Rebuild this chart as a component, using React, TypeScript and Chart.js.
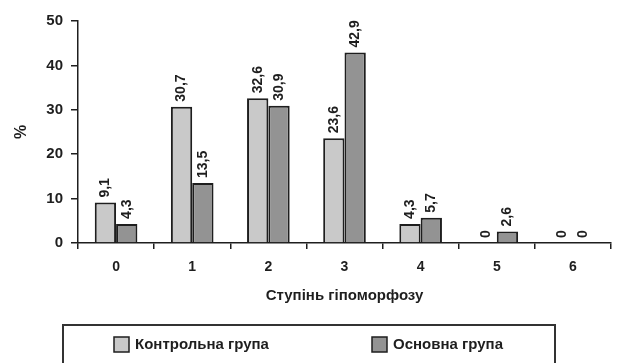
import React, { useEffect, useRef } from "react";
import { Chart, registerables } from "chart.js";

Chart.register(...registerables);

// Degree categories on the x axis
const degrees = ["0", "1", "2", "3", "4", "5", "6"];
// Share of patients, %
const controlGroup = [9.1, 30.7, 32.6, 23.6, 4.3, 0, 0];
const mainGroup = [4.3, 13.5, 30.9, 42.9, 5.7, 2.6, 0];
const seriesNames = ["Контрольна група", "Основна група"];
const seriesFills = ["#c9c9c9", "#939393"];
const xTitle = "Ступінь гіпоморфозу";
const yTitle = "%";
const yMax = 50;
const yStep = 10;

const FONT = "'Liberation Sans', Arial, sans-serif";
const INK = "#1e1e1e";

// Vertical value labels above every bar
const valueLabels = {
  id: "valueLabels",
  afterDatasetsDraw(chart: any) {
    const ctx = chart.ctx;
    ctx.save();
    ctx.font = `bold 14px ${FONT}`;
    ctx.fillStyle = INK;
    ctx.textAlign = "left";
    ctx.textBaseline = "middle";
    chart.data.datasets.forEach((ds: any, di: number) => {
      const meta = chart.getDatasetMeta(di);
      meta.data.forEach((bar: any, i: number) => {
        const v = ds.data[i] as number;
        const text = String(v).replace(".", ",");
        ctx.save();
        ctx.translate(bar.x, bar.y - 5);
        ctx.rotate(-Math.PI / 2);
        ctx.fillText(text, 0, 0);
        ctx.restore();
      });
    });
    ctx.restore();
  },
};

// Framed legend under the axis title
const framedLegend = {
  id: "framedLegend",
  afterDraw(chart: any) {
    const ctx = chart.ctx;
    const top = 325;
    ctx.save();
    ctx.strokeStyle = "#333";
    ctx.lineWidth = 2;
    ctx.strokeRect(63, top, 492, 60);
    ctx.font = `bold 15px ${FONT}`;
    ctx.textBaseline = "middle";
    ctx.textAlign = "left";
    const starts = [114, 372];
    chart.data.datasets.forEach((ds: any, i: number) => {
      const x = starts[i];
      ctx.fillStyle = ds.backgroundColor;
      ctx.fillRect(x, 337, 15, 15);
      ctx.strokeStyle = INK;
      ctx.lineWidth = 1.5;
      ctx.strokeRect(x, 337, 15, 15);
      ctx.fillStyle = INK;
      ctx.fillText(ds.label, x + 21, 345);
    });
    ctx.restore();
  },
};

export default function App() {
  const ref = useRef<HTMLCanvasElement | null>(null);

  useEffect(() => {
    if (!ref.current) return;
    const chart = new Chart(ref.current, {
      type: "bar",
      data: {
        labels: degrees,
        datasets: [
          {
            label: seriesNames[0],
            data: controlGroup,
            backgroundColor: seriesFills[0],
            borderColor: INK,
            borderWidth: 2,
          },
          {
            label: seriesNames[1],
            data: mainGroup,
            backgroundColor: seriesFills[1],
            borderColor: INK,
            borderWidth: 2,
          },
        ],
      },
      options: {
        responsive: false,
        devicePixelRatio: 1,
        animation: false,
        layout: { padding: { top: 21, right: 9, bottom: 58, left: 0 } },
        datasets: { bar: { categoryPercentage: 0.56, barPercentage: 1 } },
        plugins: {
          legend: { display: false },
          tooltip: { enabled: false },
        },
        scales: {
          x: {
            grid: {
              display: true,
              drawOnChartArea: false,
              drawTicks: true,
              tickLength: 6,
              color: INK,
              lineWidth: 1.5,
              offset: true,
            },
            border: { color: INK, width: 1.5 },
            ticks: {
              color: INK,
              padding: 10,
              font: { family: FONT, size: 14, weight: "bold" },
            },
            title: {
              display: true,
              text: xTitle,
              color: INK,
              padding: { top: 0, bottom: 0 },
              font: { family: FONT, size: 15, weight: "bold" },
            },
            afterFit(scale: any) {
              scale.height = 62;
            },
          },
          y: {
            min: 0,
            max: yMax,
            grid: {
              display: true,
              drawOnChartArea: false,
              drawTicks: true,
              tickLength: 7,
              color: INK,
              lineWidth: 1.5,
            },
            border: { color: INK, width: 1.5 },
            ticks: {
              stepSize: yStep,
              color: INK,
              padding: 8,
              font: { family: FONT, size: 15, weight: "bold" },
            },
            title: {
              display: true,
              text: yTitle,
              color: INK,
              padding: { top: 12, bottom: 0 },
              font: { family: FONT, size: 16, weight: "bold" },
            },
            afterFit(scale: any) {
              scale.width = 78;
            },
          },
        },
      },
      plugins: [valueLabels, framedLegend],
    });
    return () => chart.destroy();
  }, []);

  return (
    <div style={{ position: "fixed", left: 0, top: 0, width: 620, height: 363, background: "#fff" }}>
      <canvas ref={ref} width={620} height={363} />
    </div>
  );
}
